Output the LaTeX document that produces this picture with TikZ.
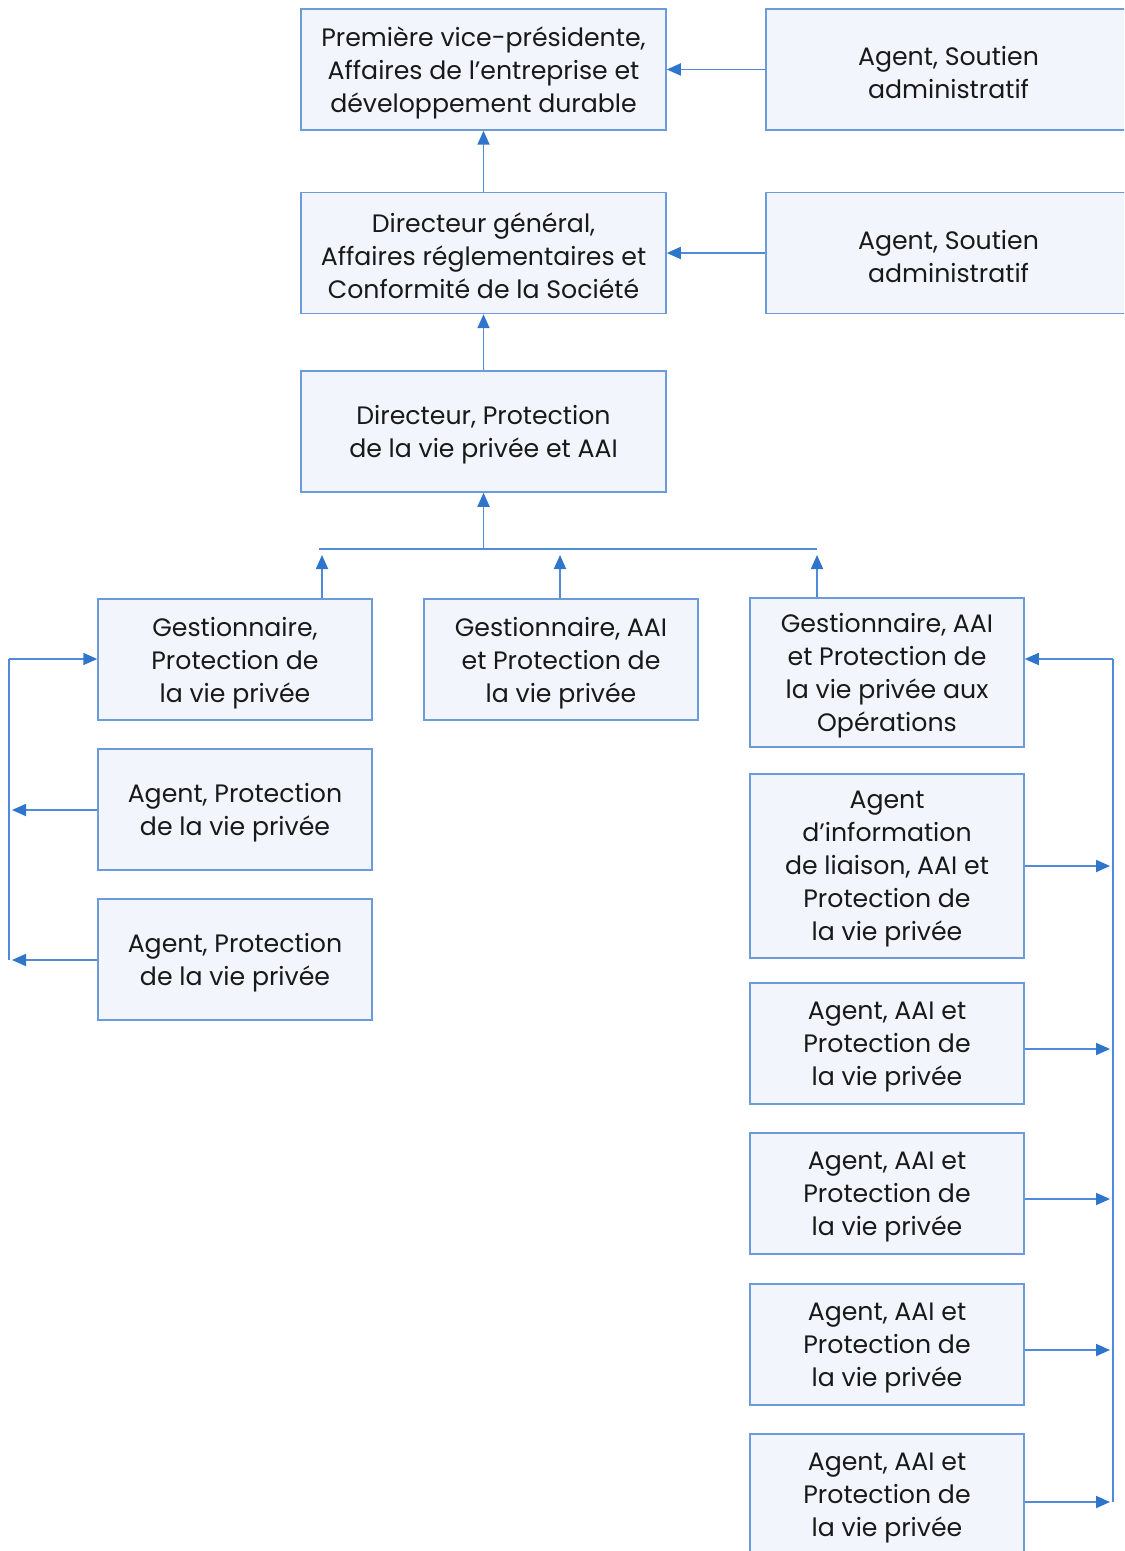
\documentclass[tikz,border=0pt]{standalone}
\usepackage{fontspec}
\setmainfont{Poppins}
\usetikzlibrary{arrows.meta}
\definecolor{boxfill}{HTML}{F2F5FB}
\definecolor{boxline}{HTML}{6B9BD8}
\definecolor{conn}{HTML}{4F8BD6}
\definecolor{tipc}{HTML}{2F75CC}
\begin{document}
\begin{tikzpicture}[x=0.5pt,y=-0.5pt,
  box/.style={draw=boxline,fill=boxfill,line width=0.75pt,inner sep=0pt},
  txt/.style={align=center,inner sep=0pt,yshift=-1.6pt,
    font=\fontsize{12.6pt}{16.5pt}\selectfont,text=black!90},
  wide/.style={box,minimum width=182.5pt},
  narrow/.style={box,minimum width=137pt},
  h1/.style={minimum height=60.5pt},
  conn/.style={draw=conn,line width=0.9pt,-{Triangle[length=7pt,width=6pt,fill=tipc,color=tipc]}},
  plain/.style={draw=conn,line width=0.9pt}]
\useasboundingbox (0,0) rectangle (1124,1551);
\clip (0,0) rectangle (1124,1551);
% top chain
\node[wide,h1,label={[txt]center:{Première vice-présidente,\\Affaires de l’entreprise et\\développement durable}}] (b1) at (483.5,69.5) {};
\node[wide,h1,label={[txt]center:{Directeur général,\\Affaires réglementaires et\\Conformité de la Société}}] (b2) at (483.5,253) {};
\node[wide,h1,label={[txt]center:{Directeur, Protection\\de la vie privée et AAI}}] (b3) at (483.5,431.5) {};
\node[wide,h1,label={[txt]center:{Agent, Soutien\\administratif}}] (a1) at (948.5,69.5) {};
\node[wide,h1,label={[txt]center:{Agent, Soutien\\administratif}}] (a2) at (948.5,253) {};
% left column
\node[narrow,h1,label={[txt]center:{Gestionnaire,\\Protection de\\la vie privée}}] (l1) at (235,659.5) {};
\node[narrow,h1,label={[txt]center:{Agent, Protection\\de la vie privée}}] (l2) at (235,809.5) {};
\node[narrow,h1,label={[txt]center:{Agent, Protection\\de la vie privée}}] (l3) at (235,959.5) {};
% middle
\node[narrow,h1,label={[txt]center:{Gestionnaire, AAI\\et Protection de\\la vie privée}}] (m) at (561,659.5) {};
% right column
\node[narrow,minimum height=74.5pt,label={[txt]center:{Gestionnaire, AAI\\et Protection de\\la vie privée aux\\Opérations}}] (r1) at (887,672.5) {};
\node[narrow,minimum height=92pt,label={[txt]center:{Agent\\d’information\\de liaison, AAI et\\Protection de\\la vie privée}}] (r2) at (887,866) {};
\node[narrow,h1,label={[txt]center:{Agent, AAI et\\Protection de\\la vie privée}}] (r3) at (887,1043.5) {};
\node[narrow,h1,label={[txt]center:{Agent, AAI et\\Protection de\\la vie privée}}] (r4) at (887,1193.5) {};
\node[narrow,h1,label={[txt]center:{Agent, AAI et\\Protection de\\la vie privée}}] (r5) at (887,1344.5) {};
\node[narrow,minimum height=61pt,label={[txt]center:{Agent, AAI et\\Protection de\\la vie privée}}] (r6) at (887,1495) {};
% coordinates
\coordinate (busL) at (319,549);
\coordinate (busR) at (817,549);
\coordinate (busC) at (483.5,549);
\coordinate (lt) at (9,659);
\coordinate (lb) at (9,960);
\coordinate (rt) at (1113,659);
\coordinate (rb) at (1113,1502);
% connectors top
\draw[conn] (b2.north) -- (b1.south);
\draw[conn] (b3.north) -- (b2.south);
\draw[conn] (a1.west) -- (b1.east);
\draw[conn] (a2.west) -- (b2.east);
% bus
\draw[plain] (busL) -- (busR);
\draw[conn] (busC) -- (b3.south);
\draw[conn,shorten >=3pt] (l1.north -| 322,0) -- (busL -| 322,0);
\draw[conn,shorten >=3pt] (m.north -| 560,0) -- (busL -| 560,0);
\draw[conn,shorten >=3pt] (r1.north -| 817,0) -- (busR);
% left bracket
\draw[plain] (lt) -- (lb);
\draw[conn] (lt) -- (l1.west |- lt);
\draw[conn,shorten >=1.5pt] (l2.west |- 0,810) -- (lt |- 0,810);
\draw[conn,shorten >=1.5pt] (l3.west |- lb) -- (lb);
% right bracket
\draw[plain] (rt) -- (rb);
\draw[conn] (rt) -- (r1.east |- rt);
\draw[conn,shorten >=1.5pt] (r2.east |- 0,866) -- (rt |- 0,866);
\draw[conn,shorten >=1.5pt] (r3.east |- 0,1049) -- (rt |- 0,1049);
\draw[conn,shorten >=1.5pt] (r4.east |- 0,1199) -- (rt |- 0,1199);
\draw[conn,shorten >=1.5pt] (r5.east |- 0,1350) -- (rt |- 0,1350);
\draw[conn,shorten >=1.5pt] (r6.east |- rb) -- (rb);
\end{tikzpicture}
\end{document}
